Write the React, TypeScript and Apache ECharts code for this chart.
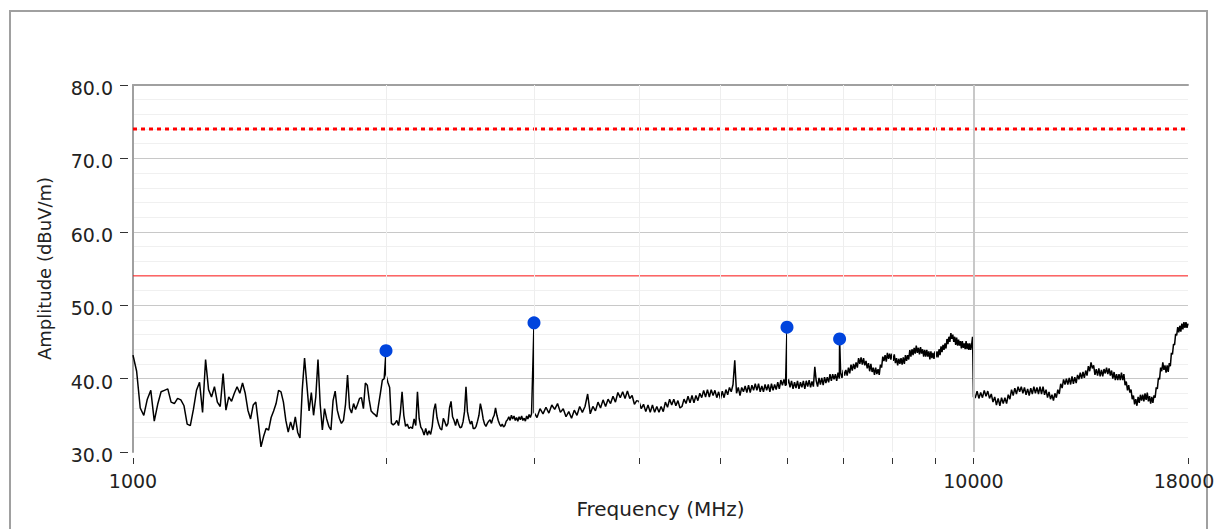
import React, { useEffect, useRef } from "react";
import * as echarts from "echarts";

// ---- Sweep A: 1000 .. 2990 MHz, 10 MHz steps (amplitude dBuV/m)
const sweepAStart = 1000;
const sweepAStep = 10;
const sweepAValues = [
  43.2, 41.0, 36.0, 35.0, 37.2, 38.4, 34.2, 36.5, 38.2, 38.4,
  38.6, 36.8, 36.6, 37.3, 37.1, 36.3, 33.8, 33.6, 35.8, 38.4,
  39.5, 35.4, 42.6, 38.5, 37.5, 38.9, 36.8, 36.2, 40.7, 35.7,
  37.5, 36.9, 38.0, 38.9, 38.0, 39.4, 38.0, 35.7, 34.5, 36.4,
  36.8, 33.9, 30.7, 32.1, 33.2, 33.0, 34.7, 35.6, 36.6, 38.4,
  38.2, 36.8, 34.3, 32.7, 34.1, 33.0, 34.8, 32.7, 31.9, 38.5,
  42.8, 39.2, 35.6, 38.1, 35.0, 37.5, 42.6, 36.5, 33.0, 35.9,
  34.5, 33.5, 33.0, 37.0, 38.3, 35.7, 34.6, 33.9, 34.3, 36.5,
  40.5, 36.0, 35.3, 36.6, 35.8, 36.5, 37.3, 37.4, 35.9, 39.4,
  39.1, 37.1, 35.6, 35.3, 35.1, 34.8, 36.5, 38.1, 39.8, 40.0,
  40.5, 39.5, 38.8, 33.9, 33.7, 33.9, 34.3, 33.6, 35.3, 38.2,
  35.0, 33.5, 33.8, 33.2, 33.4, 33.2, 34.5, 33.6, 38.2, 34.6,
  33.4, 33.0, 32.3, 33.2, 32.3, 32.9, 32.4, 33.5, 35.7, 36.6,
  34.7, 33.8, 33.2, 33.0, 34.6, 34.1, 33.5, 33.9, 36.0, 36.9,
  34.8, 34.3, 33.6, 34.5, 33.8, 33.3, 33.4, 34.1, 35.5, 38.9,
  35.5, 34.5, 33.8, 34.2, 33.2, 33.2, 33.5, 34.2, 35.0, 36.6,
  35.7, 34.5, 33.8, 33.5, 33.9, 34.2, 34.4, 33.9, 34.6, 35.0,
  36.0, 35.0, 34.3, 33.8, 33.5, 33.8, 33.4, 33.6, 34.2, 34.4,
  34.8, 34.3, 35.0, 34.5, 34.9, 34.3, 34.7, 34.2, 34.8, 34.4,
  34.9, 34.3, 34.6, 34.2, 34.9, 34.5, 35.1, 34.7, 35.2, 41.4,
];

// ---- Sweep B: 3000 .. 9975 MHz, 25 MHz steps
const sweepBStart = 3000;
const sweepBStep = 25;
const sweepBValues = [
  35.4, 34.7, 35.9, 35.2, 36.1, 35.3, 36.4, 35.8, 36.6, 35.4, 35.9, 34.8, 35.5, 34.6, 35.7, 35.0, 36.2, 35.4, 36.2, 37.9,
  35.2, 36.2, 35.6, 36.8, 36.0, 37.1, 36.2, 37.2, 36.6, 37.6, 36.8, 38.1, 37.4, 38.2, 37.3, 38.3, 37.3, 37.7, 36.5, 37.0,
  36.9, 35.9, 36.5, 35.5, 36.4, 35.4, 36.4, 35.4, 36.2, 35.4, 36.2, 35.5, 36.8, 36.1, 37.2, 36.4, 37.2, 36.3, 37.0, 36.0,
  36.2, 37.2, 36.6, 37.6, 36.7, 37.7, 36.7, 37.7, 37.0, 38.0, 37.4, 38.4, 37.5, 38.5, 37.5, 38.5, 37.7, 38.4, 37.4, 38.2,
  37.2, 38.3, 37.4, 38.5, 37.8, 38.8, 38.2, 39.2, 42.5, 38.0, 38.8, 37.7, 38.8, 38.2, 39.0, 38.1, 39.1, 38.1, 39.1, 38.4,
  39.3, 38.4, 39.3, 38.2, 39.0, 38.2, 39.2, 38.4, 39.2, 38.2, 39.3, 38.4, 39.2, 38.5, 39.5, 38.6, 39.8, 39.1, 39.9, 39.0,
  39.1, 39.9, 38.8, 39.7, 38.6, 39.5, 38.7, 39.7, 38.6, 39.5, 38.8, 39.7, 38.6, 39.7, 38.9, 39.8, 38.8, 39.6, 38.9, 41.6,
  39.7, 38.9, 40.1, 39.2, 40.1, 39.1, 40.2, 39.4, 40.2, 39.5, 40.6, 39.7, 40.6, 39.9, 40.6, 39.7, 40.8, 40.0, 40.8, 40.1,
  41.2, 40.4, 41.2, 40.4, 41.5, 40.7, 41.9, 41.1, 42.0, 41.3, 42.2, 41.5, 42.8, 42.0, 42.9, 41.9, 42.8, 41.8, 42.4, 41.4,
  42.1, 41.0, 42.0, 40.9, 41.5, 40.5, 41.5, 40.6, 41.3, 40.5, 41.9, 41.5, 43.0, 42.4, 43.2, 42.3, 43.5, 42.7, 43.4, 42.6,
  43.4, 42.4, 43.3, 42.1, 42.8, 41.8, 42.7, 42.0, 42.8, 41.9, 42.9, 42.0, 43.2, 42.4, 43.2, 42.6, 43.9, 43.0, 44.0, 43.2,
  44.2, 43.4, 44.5, 43.5, 44.2, 43.3, 44.3, 43.4, 44.0, 43.0, 43.9, 43.0, 43.9, 43.0, 43.7, 42.6, 43.7, 42.8, 43.5, 42.7,
  43.7, 42.9, 43.7, 42.9, 44.0, 43.2, 44.4, 43.6, 44.6, 43.9, 44.8, 44.1, 45.4, 44.7, 45.7, 45.0, 46.2, 45.4, 46.0, 45.0,
  45.7, 44.6, 45.6, 44.5, 45.3, 44.5, 45.1, 44.1, 45.1, 44.2, 44.8, 44.0, 45.1, 44.0, 44.8, 43.9, 44.8, 43.9, 44.6, 45.7,
];

// ---- Sweep C: 10000 .. 18000 MHz, 50 MHz steps
const sweepCStart = 10000;
const sweepCStep = 50;
const sweepCValues = [
  37.5, 37.4, 38.3, 37.3, 38.1, 37.4, 38.4, 37.6, 38.3, 37.3,
  37.9, 36.8, 37.5, 36.4, 37.3, 36.3, 37.4, 36.6, 37.4, 36.6,
  37.8, 37.2, 38.5, 37.7, 38.7, 37.9, 38.9, 38.2, 38.9, 38.0,
  38.8, 37.8, 38.6, 37.7, 38.7, 37.9, 38.9, 38.0, 38.8, 37.9,
  38.9, 37.9, 38.9, 37.8, 38.5, 37.4, 38.2, 37.2, 37.8, 37.0,
  38.0, 37.4, 38.5, 37.9, 39.3, 38.7, 39.9, 39.2, 40.0, 39.2,
  40.1, 39.2, 40.3, 39.3, 40.2, 39.4, 40.5, 39.9, 40.8, 40.0,
  40.9, 40.1, 41.1, 40.4, 41.7, 41.0, 42.2, 41.4, 41.8, 40.5,
  41.3, 40.4, 41.4, 40.3, 41.2, 40.3, 41.3, 40.7, 41.5, 40.6,
  41.4, 40.4, 41.1, 40.0, 40.9, 39.8, 40.6, 39.8, 40.6, 39.8,
  40.8, 39.8, 40.6, 39.1, 39.6, 38.4, 39.1, 38.1, 38.5, 37.2,
  37.7, 36.5, 37.2, 36.3, 37.5, 36.7, 37.8, 37.0, 37.8, 36.9,
  38.0, 37.1, 38.1, 36.9, 37.6, 36.6, 37.5, 36.7, 37.7, 37.4,
  38.8, 38.6, 40.1, 39.9, 41.5, 41.0, 42.2, 41.2, 41.8, 40.8,
  41.8, 40.9, 42.1, 41.7, 43.5, 43.3, 44.7, 44.6, 46.1, 45.9,
  47.0, 46.3, 47.2, 46.4, 47.5, 46.7, 47.7, 46.9, 47.7, 46.9,
  47.5,
];

// ---- Marked peaks
const peakFreqs = [2000, 3000, 6000, 6930];
const peakValues = [43.8, 47.6, 47.0, 45.4];

// ---- Limit lines
const limitFreqs = [1000, 18000];
const peakLimit = 74;
const avgLimit = 54;

// ---- Axis ticks
const xTickValues = [1000, 2000, 3000, 4000, 5000, 6000, 7000, 8000, 9000, 10000, 18000];
const xLabelValues = [1000, 10000, 18000];
const xMinorGrid = [2000, 3000, 4000, 5000, 6000, 7000, 8000, 9000];
const xMajorGrid = [10000];

const FONT = "DejaVu Sans";

function sweep(start: number, step: number, values: number[]): number[][] {
  return values.map((v, i) => [start + i * step, v]);
}

function buildTrace(): number[][] {
  const pts = [
    ...sweep(sweepAStart, sweepAStep, sweepAValues),
    ...sweep(sweepBStart, sweepBStep, sweepBValues),
    ...sweep(sweepCStart, sweepCStep, sweepCValues),
  ];
  peakFreqs.forEach((f, i) => {
    let idx = pts.findIndex((p) => p[0] >= f);
    if (idx < 0) idx = pts.length;
    pts.splice(idx, 0, [f, peakValues[i]]);
  });
  return pts;
}

export default function App() {
  const ref = useRef<HTMLDivElement>(null);
  useEffect(() => {
    if (!ref.current) return;
    const chart = echarts.init(ref.current, undefined, { renderer: "svg" });
    const trace = buildTrace();
    const lastLabel = xLabelValues[xLabelValues.length - 1];
    const option: any = {
      animation: false,
      backgroundColor: "#ffffff",
      textStyle: { fontFamily: FONT },
      grid: { left: 133, right: 28, top: 85, bottom: 77, containLabel: false, outerBoundsMode: "none" },
      graphic: [
        {
          type: "rect",
          silent: true,
          z: -10,
          shape: { x: 10, y: 11, width: 1197, height: 700 },
          style: { fill: "none", stroke: "#a0a0a0", lineWidth: 2 },
        },
      ],
      xAxis: [
        {
          type: "log",
          logBase: 10,
          min: 1000,
          max: 18000,
          position: "bottom",
          offset: 6,
          name: "Frequency (MHz)",
          nameLocation: "middle",
          nameGap: 41,
          nameTextStyle: { fontSize: 20, color: "#222", fontFamily: FONT },
          axisLine: { show: false, onZero: false },
          axisTick: {
            show: true,
            length: 6,
            customValues: xTickValues,
            lineStyle: { color: "#333", width: 1 },
          },
          axisLabel: {
            customValues: xLabelValues,
            fontSize: 19,
            color: "#222",
            margin: 13,
            fontFamily: FONT,
            formatter: (v: number) => (v === lastLabel ? `{e|${v}}` : String(v)),
            rich: {
              e: { fontSize: 19, color: "#222", fontFamily: FONT, padding: [0, 8, 0, 0] },
            },
          },
          splitLine: { show: false },
          minorTick: { show: false },
          minorSplitLine: { show: false },
        },
        {
          type: "value",
          position: "top",
          min: 0,
          max: 1,
          axisLine: { show: true, onZero: false, lineStyle: { color: "#a0a0a0", width: 2 } },
          axisTick: { show: false },
          axisLabel: { show: false },
          splitLine: { show: false },
        },
      ],
      yAxis: [
        {
          type: "value",
          min: 30,
          max: 80,
          interval: 10,
          position: "left",
          offset: 5,
          name: "Amplitude (dBuV/m)",
          nameLocation: "middle",
          nameGap: 75,
          nameTextStyle: { fontSize: 18, color: "#222", fontFamily: FONT },
          axisLine: { show: false, onZero: false },
          axisTick: { show: true, length: 8, lineStyle: { color: "#333", width: 1 } },
          axisLabel: {
            fontSize: 19,
            color: "#222",
            margin: 15,
            fontFamily: FONT,
            formatter: (v: number) => `{y|${v.toFixed(1)}}`,
            rich: {
              y: { fontSize: 19, color: "#222", fontFamily: FONT, padding: [6, 0, 0, 0] },
            },
          },
          splitLine: { show: true, showMinLine: false, lineStyle: { color: "#c8c8c8", width: 1 } },
          minorTick: { show: false, splitNumber: 5 },
          minorSplitLine: { show: true, lineStyle: { color: "#f0f0f0", width: 1 } },
        },
        {
          type: "value",
          min: 30,
          max: 80,
          position: "left",
          offset: 0,
          axisLine: { show: true, onZero: false, lineStyle: { color: "#a0a0a0", width: 2 } },
          axisTick: { show: false },
          axisLabel: { show: false },
          splitLine: { show: false },
        },
      ],
      series: [
        {
          type: "line",
          data: [],
          silent: true,
          z: 1,
          markLine: {
            silent: true,
            symbol: ["none", "none"],
            label: { show: false },
            lineStyle: { type: "solid" },
            data: [
              ...xMinorGrid.map((v) => ({ xAxis: v, lineStyle: { color: "#eeeeee", width: 1, type: "solid" } })),
              ...xMajorGrid.map((v) => ({ xAxis: v, lineStyle: { color: "#c8c8c8", width: 2, type: "solid" } })),
            ],
          },
        },
        {
          type: "line",
          data: limitFreqs.map((f) => [f, peakLimit]),
          symbol: "none",
          silent: true,
          z: 2,
          lineStyle: { color: "#ff0000", width: 3, type: [4, 4] },
        },
        {
          type: "line",
          data: limitFreqs.map((f) => [f, avgLimit]),
          symbol: "none",
          silent: true,
          z: 2,
          lineStyle: { color: "#ff1a1a", width: 1 },
        },
        {
          type: "line",
          data: trace,
          symbol: "none",
          showSymbol: false,
          silent: true,
          z: 4,
          lineStyle: { color: "#000000", width: 1.5 },
        },
        {
          type: "scatter",
          data: peakFreqs.map((f, i) => [f, peakValues[i]]),
          symbol: "circle",
          symbolSize: 13,
          silent: true,
          z: 5,
          itemStyle: { color: "#0044dd", opacity: 1 },
        },
      ],
    };
    chart.setOption(option);
    return () => chart.dispose();
  }, []);
  return (
    <div
      ref={ref}
      style={{ position: "absolute", left: 0, top: 0, width: 1216, height: 529, background: "#fff" }}
    />
  );
}
